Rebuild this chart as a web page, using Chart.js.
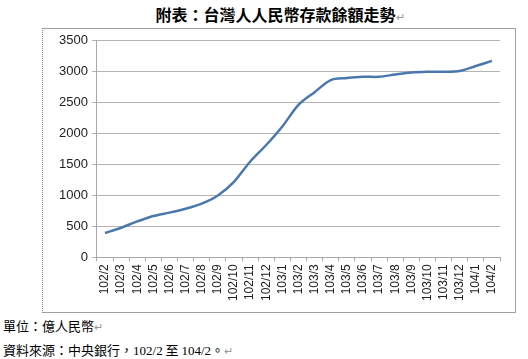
<!DOCTYPE html>
<html lang="zh-Hant">
<head>
    <meta charset="UTF-8">
    <title>台灣人人民幣存款餘額走勢</title>
    <script src="https://cdn.jsdelivr.net/npm/chart.js"></script>
    <style>
        body { margin: 0; width: 528px; height: 359px; background: #fff; position: relative; overflow: hidden;
               font-family: "Noto Sans CJK TC", sans-serif; color: #000; }
        .title { position: absolute; left: 0; width: 560px; top: 2px; text-align: center;
                 font-size: 16px; font-weight: bold; }
        .mark { color: #999; font-weight: normal; font-size: 11px; }
        .box { position: absolute; left: 42px; top: 28px; width: 472px; height: 283px;
               border-top: 1px solid #a0a0a0; border-right: 1px solid #a0a0a0;
               border-bottom: 1px solid #a0a0a0; border-left: 1px dotted #808080; }
        .note { position: absolute; left: 3px; font-size: 13px; }
        .num { font-family: "Liberation Serif", serif; }
    </style>
</head>
<body>
    <div class="title">附表：台灣人人民幣存款餘額走勢<span class="mark">↵</span></div>
    <div class="box"><canvas id="depositChart" width="472" height="283"></canvas></div>
    <div class="note" style="top:316px;">單位：億人民幣<span class="mark">↵</span></div>
    <div class="note" style="top:340px;">資料來源：中央銀行，<span class="num">102/2</span> 至 <span class="num">104/2</span>。<span class="mark">↵</span></div>

    <script>
// months (ROC calendar year / month)
const months = ['102/2', '102/3', '102/4', '102/5', '102/6', '102/7', '102/8', '102/9', '102/10', '102/11', '102/12',
                '103/1', '103/2', '103/3', '103/4', '103/5', '103/6', '103/7', '103/8', '103/9', '103/10', '103/11', '103/12',
                '104/1', '104/2'];

// deposit balance, 100 million RMB
const balance = [392, 478, 580, 668, 722, 785, 868, 1000, 1220, 1545, 1815,
                 2115, 2465, 2670, 2865, 2898, 2918, 2918, 2955, 2988, 3000, 3000, 3012,
                 3092, 3175];

const yTicks = { min: 0, max: 3500, step: 500 };

const ctx = document.getElementById('depositChart').getContext('2d');

new Chart(ctx, {
    type: 'line',
    data: {
        labels: months,
        datasets: [{
            data: balance,
            borderColor: '#4a78ad',
            borderWidth: 2.5,
            pointRadius: 0,
            tension: 0.3,
            fill: false
        }]
    },
    options: {
        responsive: false,
        animation: false,
        layout: { padding: { left: 12, right: 15, top: 10, bottom: 8 } },
        plugins: {
            legend: { display: false },
            tooltip: { enabled: false }
        },
        scales: {
            x: {
                offset: true,
                grid: {
                    offset: true,
                    drawOnChartArea: false,
                    tickLength: 4,
                    color: '#a8a8a8'
                },
                border: { color: '#a8a8a8' },
                ticks: {
                    minRotation: 90,
                    maxRotation: 90,
                    autoSkip: false,
                    color: '#222',
                    font: { family: 'Liberation Sans', size: 12 }
                }
            },
            y: {
                min: yTicks.min,
                max: yTicks.max,
                grid: { color: '#b4b4b4', tickLength: 5 },
                border: { color: '#a8a8a8' },
                ticks: {
                    stepSize: yTicks.step,
                    padding: 4,
                    color: '#222',
                    font: { family: 'Liberation Sans', size: 13 },
                    callback: v => String(v)
                }
            }
        }
    }
});
    </script>
</body>
</html>
